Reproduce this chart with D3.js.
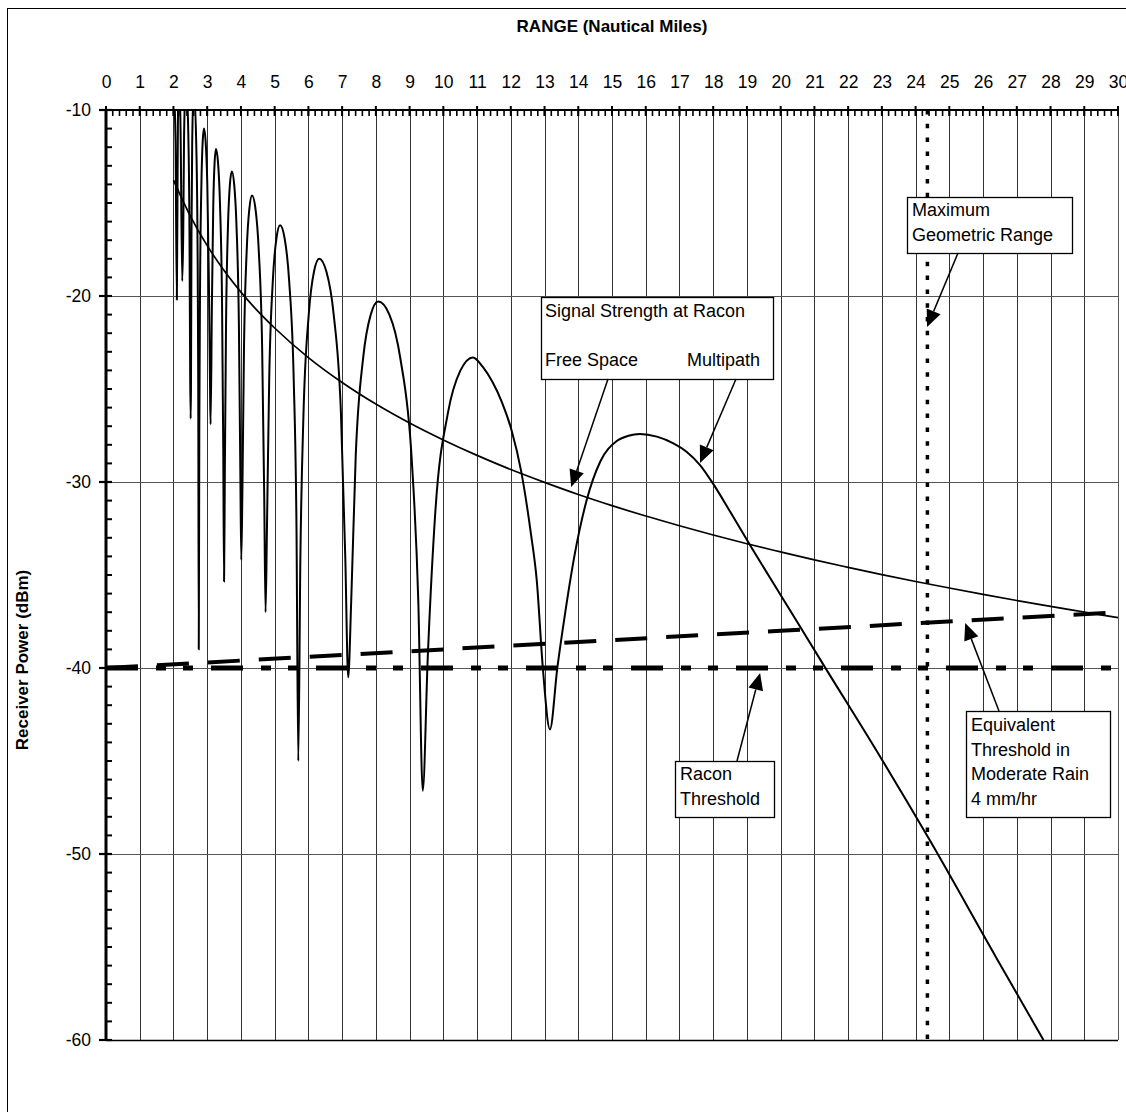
<!DOCTYPE html>
<html><head><meta charset="utf-8">
<script src="https://cdn.jsdelivr.net/npm/d3@7"></script>
<style>
body{margin:0;background:#fff}
text{font-family:"Liberation Sans",Arial,sans-serif;fill:#000}
</style>
</head><body>
<svg id="chart" width="1126" height="1112"></svg>
<script>
// ---------- data ----------
const rangeTickLabels = [0,1,2,3,4,5,6,7,8,9,10,11,12,13,14,15,16,17,18,19,20,21,22,23,24,25,26,27,28,29,30];
const powerTickLabels = [-10,-20,-30,-40,-50,-60];

const freeSpaceRange = [2,2.5,3,3.5,4,4.5,5,6,7,8,9,10,11,12,13,14,15,16,17,18,19,20,21,22,23,24,25,26,27,28,29,30];
const freeSpacePower = [-13.77,-15.70,-17.29,-18.63,-19.79,-20.81,-21.72,-23.31,-24.65,-25.81,-26.83,-27.74,-28.57,-29.33,-30.02,-30.67,-31.27,-31.83,-32.35,-32.85,-33.32,-33.76,-34.19,-34.59,-34.98,-35.35,-35.70,-36.04,-36.37,-36.69,-36.99,-37.29];

const multipathRange = [2.00,2.06,2.10,2.13,2.16,2.21,2.26,2.29,2.315,2.37,2.44,2.475,2.496,2.51,2.519,2.533,2.555,2.60,2.675,2.713,2.735,2.75,
 2.766,2.789,2.828,2.866,2.905,2.954,3.003,3.051,3.085,3.10,3.14,3.18,3.22,3.26,3.32,3.38,3.44,3.476,3.50,
 3.523,3.558,3.615,3.673,3.73,3.80,3.87,3.94,3.982,4.01,4.042,4.09,4.17,4.25,4.33,4.43,4.53,4.63,4.69,4.73,
 4.773,4.838,4.945,5.053,5.16,5.295,5.43,5.565,5.646,5.70,5.762,5.855,6.01,6.165,6.32,6.535,6.75,6.965,7.094,7.18,
 7.269,7.403,7.625,7.848,8.07,8.40,8.73,9.06,9.258,9.39,9.539,9.763,10.135,10.508,10.88,
 11.165,11.45,11.735,12.02,12.305,12.59,12.77,12.95,13.16,
 13.38,13.61,13.90,14.25,14.65,15.14,15.49,15.83,16.33,16.82,17.21,17.61,18.01,18.50,19.09,19.98,21.32,22.95,24.4,26.4,27.0,27.79];
const multipathPower = [-8.5,-11.5,-20.2,-11.0,-8.0,-11.0,-19.2,-16.6,-11.3,-8.3,-11.3,-16.6,-24.4,-26.6,-24.9,-17.1,-11.8,-8.8,-11.8,-17.1,-24.9,-39.0,
 -27.1,-19.3,-14.0,-11.7,-11.0,-11.7,-14.0,-19.3,-25.0,-26.9,-20.4,-15.1,-12.8,-12.1,-12.8,-15.1,-20.4,-28.2,-35.35,
 -29.4,-21.6,-16.3,-14.0,-13.3,-14.0,-16.3,-21.6,-29.4,-34.2,-30.7,-22.9,-17.6,-15.3,-14.6,-15.3,-17.6,-22.9,-30.7,-37.0,
 -32.3,-24.5,-19.2,-16.9,-16.2,-16.9,-19.2,-24.5,-32.3,-45.0,-34.1,-26.3,-21.0,-18.7,-18.0,-18.7,-21.0,-26.3,-34.1,-40.5,
 -36.4,-28.6,-23.3,-21.0,-20.3,-21.0,-23.4,-28.7,-36.4,-46.6,-39.4,-31.6,-26.3,-24.0,-23.3,
 -23.8,-24.6,-25.7,-27.2,-29.4,-32.7,-35.3,-40.0,-43.3,
 -39.98,-37.06,-33.84,-30.97,-28.91,-27.80,-27.51,-27.42,-27.56,-27.92,-28.37,-29.09,-30.13,-31.59,-33.39,-36.02,-39.98,-44.77,-49.2,-55.6,-57.5,-60.0];

const rainRange = [0,10,20,30];
const rainThresholdPower = [-40,-39,-38,-37];
const raconThresholdPower = -40;
const maxGeometricRange = 24.35;

// ---------- layout ----------
const svg = d3.select('#chart');
const x = d3.scaleLinear().domain([0,30]).range([106,1118]);
const y = d3.scaleLinear().domain([-10,-60]).range([110,1040]);
const FONT = '"Liberation Sans",Arial,sans-serif';

// outer border (right and bottom edges fall outside the picture)
svg.append('rect').attr('x',7.5).attr('y',8.5).attr('width',1130).attr('height',1120)
  .attr('fill','#fff').attr('stroke','#000').attr('stroke-width',1);

// grid
const grid = svg.append('g');
grid.selectAll('line.v').data(rangeTickLabels.filter(d=>d>0)).join('line')
  .attr('x1',d=>Math.round(x(d))+0.5).attr('x2',d=>Math.round(x(d))+0.5)
  .attr('y1',y(-10)).attr('y2',y(-60)).attr('stroke','#333').attr('stroke-width',1);
grid.selectAll('line.h').data(powerTickLabels.filter(d=>d>-60 && d<-10)).join('line')
  .attr('x1',x(0)).attr('x2',x(30))
  .attr('y1',d=>Math.round(y(d))+0.5).attr('y2',d=>Math.round(y(d))+0.5)
  .attr('stroke','#555').attr('stroke-width',1);
svg.append('line').attr('x1',x(0)).attr('x2',x(30)).attr('y1',Math.round(y(-60))+0.5).attr('y2',Math.round(y(-60))+0.5)
  .attr('stroke','#000').attr('stroke-width',1.3);

// clip
svg.append('clipPath').attr('id','plot').append('rect')
  .attr('x',x(0)).attr('y',y(-10)).attr('width',x(30)-x(0)).attr('height',y(-60)-y(-10));

// max geometric range dotted line
svg.append('line').attr('x1',x(maxGeometricRange)).attr('x2',x(maxGeometricRange))
  .attr('y1',y(-10)).attr('y2',y(-60)).attr('stroke','#000').attr('stroke-width',3.5)
  .attr('stroke-dasharray','4.5,9.3');

// racon threshold (long dash - dot - dot)
svg.append('line').attr('x1',x(0)).attr('x2',x(30))
  .attr('y1',y(raconThresholdPower)).attr('y2',y(raconThresholdPower))
  .attr('stroke','#000').attr('stroke-width',5).attr('stroke-dasharray','32,18,10,17,10,18');

// rain equivalent threshold (dashed)
const line = d3.line().x(d=>x(d[0])).y(d=>y(d[1]));
svg.append('path').datum(rainRange.map((r,i)=>[r,rainThresholdPower[i]]))
  .attr('d',line).attr('fill','none').attr('stroke','#000').attr('stroke-width',4)
  .attr('stroke-dasharray','32,19');

// curves
const curveLine = d3.line().x(d=>x(d[0])).y(d=>y(d[1])).curve(d3.curveMonotoneX);
svg.append('path').datum(freeSpaceRange.map((r,i)=>[r,freeSpacePower[i]]))
  .attr('d',curveLine).attr('fill','none').attr('stroke','#000').attr('stroke-width',1.7)
  .attr('clip-path','url(#plot)');
svg.append('path').datum(multipathRange.map((r,i)=>[r,multipathPower[i]]))
  .attr('d',curveLine).attr('fill','none').attr('stroke','#000').attr('stroke-width',2)
  .attr('stroke-linejoin','round').attr('clip-path','url(#plot)');

// right edge of plot
svg.append('line').attr('x1',Math.round(x(30))+0.5).attr('x2',Math.round(x(30))+0.5)
  .attr('y1',y(-10)).attr('y2',y(-60)).attr('stroke','#555').attr('stroke-width',1);

// ---------- axes ----------
const topAxis = svg.append('g').attr('transform',`translate(0,${y(-10)})`)
  .call(d3.axisTop(x).tickValues(rangeTickLabels).tickSize(0).tickPadding(22).tickFormat(d=>String(d)));
topAxis.select('.domain').remove();
topAxis.selectAll('text').attr('font-size','17.5px').attr('font-family',FONT).attr('fill','#000');
const minor = d3.range(0,30.001,0.2);
svg.append('g').selectAll('line').data(minor).join('line')
  .attr('x1',d=>x(d)).attr('x2',d=>x(d)).attr('y1',y(-10)).attr('y2',y(-10)+6)
  .attr('stroke','#000').attr('stroke-width',1.6);
svg.append('g').selectAll('line').data(rangeTickLabels).join('line')
  .attr('x1',d=>x(d)).attr('x2',d=>x(d)).attr('y1',y(-10)-4).attr('y2',y(-10)+6)
  .attr('stroke','#000').attr('stroke-width',2);
svg.append('line').attr('x1',x(0)).attr('x2',x(30)).attr('y1',y(-10)).attr('y2',y(-10))
  .attr('stroke','#000').attr('stroke-width',2);

const leftAxis = svg.append('g').attr('transform',`translate(${x(0)},0)`)
  .call(d3.axisLeft(y).tickValues(powerTickLabels).tickSize(0).tickPadding(15).tickFormat(d=>String(d)));
leftAxis.select('.domain').remove();
leftAxis.selectAll('text').attr('font-size','17.5px').attr('font-family',FONT).attr('fill','#000');
const yMinor = d3.range(-10,-60.001,-1);
svg.append('g').selectAll('line').data(yMinor).join('line')
  .attr('x1',x(0)).attr('x2',x(0)+6).attr('y1',d=>y(d)).attr('y2',d=>y(d))
  .attr('stroke','#000').attr('stroke-width',2);
svg.append('g').selectAll('line').data(powerTickLabels).join('line')
  .attr('x1',x(0)-7).attr('x2',x(0)+6).attr('y1',d=>y(d)).attr('y2',d=>y(d))
  .attr('stroke','#000').attr('stroke-width',2.2);
svg.append('line').attr('x1',x(0)).attr('x2',x(0)).attr('y1',y(-10)-1).attr('y2',y(-60)+1)
  .attr('stroke','#000').attr('stroke-width',3);

// titles
svg.append('text').attr('x',(x(0)+x(30))/2).attr('y',32).attr('text-anchor','middle')
  .attr('font-weight','bold').attr('font-size','17px').text('RANGE (Nautical Miles)');
svg.append('text').attr('transform',`translate(28,660) rotate(-90)`).attr('text-anchor','middle')
  .attr('font-weight','bold').attr('font-size','17px').text('Receiver Power (dBm)');

// ---------- annotations ----------
function arrow(x1,y1,tipR,tipP){
  const x2 = x(tipR), y2 = y(tipP);
  const ang = Math.atan2(y2-y1,x2-x1);
  const L = 17, hw = 7.5;
  const bx = x2 - L*Math.cos(ang), by = y2 - L*Math.sin(ang);
  svg.append('line').attr('x1',x1).attr('y1',y1).attr('x2',bx).attr('y2',by)
    .attr('stroke','#000').attr('stroke-width',1.5);
  const px = -Math.sin(ang), py = Math.cos(ang);
  svg.append('path').attr('d',`M${x2},${y2}L${bx+px*hw},${by+py*hw}L${bx-px*hw},${by-py*hw}Z`)
    .attr('fill','#000');
}
function box(bx,by,bw,bh,lines){
  svg.append('rect').attr('x',bx+0.5).attr('y',by+0.5).attr('width',bw).attr('height',bh)
    .attr('fill','#fff').attr('stroke','#000').attr('stroke-width',1.3);
  lines.forEach(l=>{
    svg.append('text').attr('x',l[0]).attr('y',l[1]).attr('font-size','18px').text(l[2]);
  });
}
box(907,197,165,56,[[912,216,'Maximum'],[912,240.5,'Geometric Range']]);
arrow(958,253,24.34,-21.67);

box(541,297,232,82,[[545,317,'Signal Strength at Racon'],[545,366,'Free Space'],[687,366,'Multipath']]);
arrow(608,379,13.79,-30.27);
arrow(736,379,17.61,-28.98);

box(675,761,99,56,[[680,780,'Racon'],[680,804.5,'Threshold']]);
arrow(737,761,19.39,-40.27);

box(966,711,144,106,[[971,730.5,'Equivalent'],[971,755.5,'Threshold in'],[971,780,'Moderate Rain'],[971,804.5,'4 mm/hr']]);
arrow(999,711,25.47,-37.58);
</script>
</body></html>
